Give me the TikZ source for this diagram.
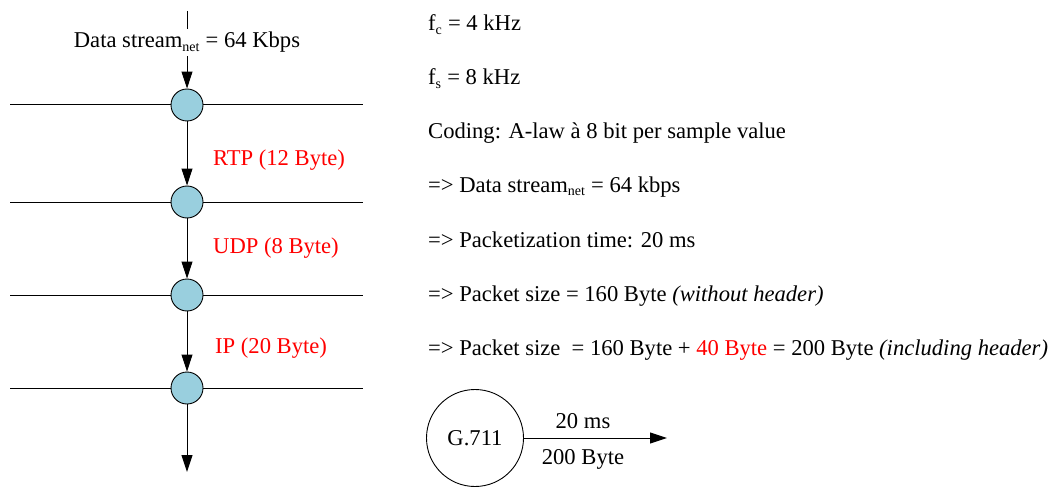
\documentclass[tikz,border=0pt]{standalone}
\usepackage{fontspec}
\setmainfont{Liberation Serif}[Ligatures=TeX]
\usetikzlibrary{arrows.meta}
\definecolor{nodeblue}{RGB}{153,207,222}
\newfontfamily\timesfont{Liberation Serif}
\tikzset{
  every node/.style={font=\timesfont\fontsize{22.6}{26}\selectfont, inner sep=0pt},
  hop/.style={circle, draw, fill=nodeblue, minimum size=32pt, line width=0.9pt},
  layer/.style={line width=1pt},
  flow/.style={line width=1pt, -{Triangle[length=17pt,width=11pt]}},
  hdr/.style={text=red, anchor=base west},
  txt/.style={anchor=base west}
}
\newcommand{\sbs}[1]{\textsubscript{\fontsize{14}{15}\selectfont #1}}
\begin{document}
\begin{tikzpicture}[x=1pt,y=-1pt]
\useasboundingbox (0,0) rectangle (1051,489);

% protocol layers
\foreach \i/\y in {1/105, 2/202, 3/295, 4/388}{
  \coordinate (l\i) at (10,\y);
  \coordinate (r\i) at (363,\y);
  \draw[layer] (l\i) -- (r\i);
  \node[hop] (c\i) at (187,\y) {};
}

% incoming net stream
\coordinate (top) at (187,11);
\node[anchor=base, inner sep=3pt] (ds) at (187,48) {Data stream\sbs{net} = 64 Kbps};
\draw[layer] (top) -- (ds.north);
\draw[flow] (ds.south) -- (c1);

\draw[flow] (c1) -- (c2);
\draw[flow] (c2) -- (c3);
\draw[flow] (c3) -- (c4);
\coordinate (bot) at (187,472);
\draw[flow] (c4) -- (bot);

% header sizes
\node[hdr] (rtp) at (213,166) {RTP (12 Byte)};
\node[hdr] (udp) at (213,253) {UDP (8 Byte)};
\node[hdr] (ip)  at (215,353) {IP (20 Byte)};

% parameters
\node[txt] (t1) at (428,31)  {f\sbs{c} = 4 kHz};
\node[txt] (t2) at (428,85)  {f\sbs{s} = 8 kHz};
\node[txt] (t3) at (428,138.5) {Coding: A-law à 8 bit per sample value};
\node[txt] (t4) at (428,192.5) {=> Data stream\sbs{net} = 64 kbps};
\node[txt] (t5) at (428,247) {=> Packetization time: 20 ms};
\node[txt] (t6) at (428,301) {=> Packet size = 160 Byte \textit{(without header)}};
\node[txt] (t7) at (428,355) {=> Packet size\ \ = 160 Byte + \textcolor{red}{40 Byte} = 200 Byte \textit{(including header)}};

% codec
\node[circle, draw, line width=0.9pt, minimum size=97pt] (g) at (475,438) {G.711};
\coordinate (gend) at (667,438);
\draw[flow] (g) -- (gend);
\node[anchor=base] (ms) at (583,428) {20 ms};
\node[anchor=base] (by) at (583,464) {200 Byte};
\end{tikzpicture}
\end{document}
